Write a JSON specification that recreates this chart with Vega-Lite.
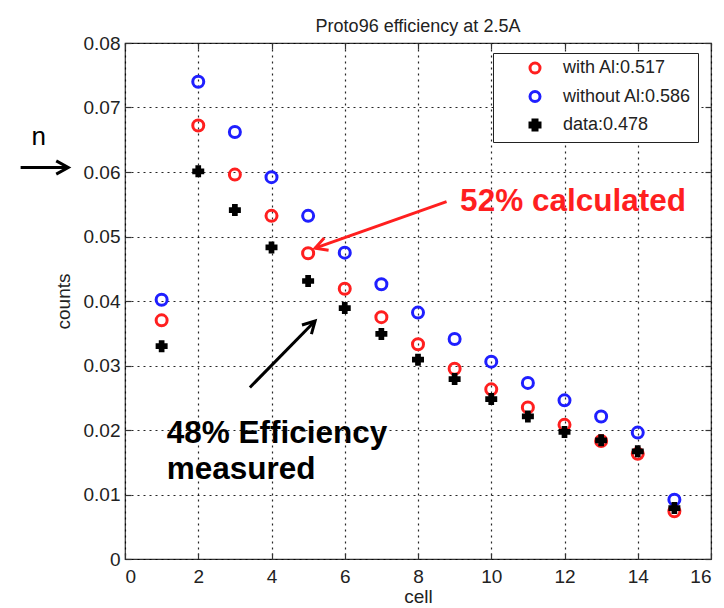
{
  "$schema": "https://vega.github.io/schema/vega-lite/v6.json",
  "width": 586,
  "height": 516,
  "autosize": {"type": "none"},
  "padding": {"left": 125, "top": 43, "right": 13, "bottom": 49},
  "background": "white",
  "title": {
    "text": "Proto96 efficiency at 2.5A",
    "font": "Liberation Sans",
    "fontSize": 18,
    "fontWeight": "normal",
    "color": "#222",
    "baseline": "alphabetic",
    "offset": 6,
    "dy": 22
  },
  "config": {
    "view": {"stroke": "#333", "strokeWidth": 1.2},
    "axis": {
      "domain": false,
      "labelFont": "Liberation Sans",
      "labelFontSize": 19,
      "labelColor": "#222",
      "titleFont": "Liberation Sans",
      "titleFontSize": 19,
      "titleFontWeight": "normal",
      "titleColor": "#222",
      "tickColor": "#333",
      "tickSize": -6,
      "tickWidth": 1.2,
      "gridColor": "#000",
      "gridDash": [2, 4],
      "gridWidth": 1.2,
      "gridOpacity": 0.85
    }
  },
  "resolve": {"axis": {"x": "independent", "y": "independent"}},
  "datasets": {
    "cells": [
      {"cell": 1, "series": "with Al:0.517", "counts": 0.0370},
      {"cell": 2, "series": "with Al:0.517", "counts": 0.0672},
      {"cell": 3, "series": "with Al:0.517", "counts": 0.0596},
      {"cell": 4, "series": "with Al:0.517", "counts": 0.0532},
      {"cell": 5, "series": "with Al:0.517", "counts": 0.0474},
      {"cell": 6, "series": "with Al:0.517", "counts": 0.0419},
      {"cell": 7, "series": "with Al:0.517", "counts": 0.0375},
      {"cell": 8, "series": "with Al:0.517", "counts": 0.0333},
      {"cell": 9, "series": "with Al:0.517", "counts": 0.0295},
      {"cell": 10, "series": "with Al:0.517", "counts": 0.0263},
      {"cell": 11, "series": "with Al:0.517", "counts": 0.0235},
      {"cell": 12, "series": "with Al:0.517", "counts": 0.0208},
      {"cell": 13, "series": "with Al:0.517", "counts": 0.0183},
      {"cell": 14, "series": "with Al:0.517", "counts": 0.0163},
      {"cell": 15, "series": "with Al:0.517", "counts": 0.0074},
      {"cell": 1, "series": "without Al:0.586", "counts": 0.0402},
      {"cell": 2, "series": "without Al:0.586", "counts": 0.0740},
      {"cell": 3, "series": "without Al:0.586", "counts": 0.0662},
      {"cell": 4, "series": "without Al:0.586", "counts": 0.0592},
      {"cell": 5, "series": "without Al:0.586", "counts": 0.0532},
      {"cell": 6, "series": "without Al:0.586", "counts": 0.0475},
      {"cell": 7, "series": "without Al:0.586", "counts": 0.0426},
      {"cell": 8, "series": "without Al:0.586", "counts": 0.0382},
      {"cell": 9, "series": "without Al:0.586", "counts": 0.0341},
      {"cell": 10, "series": "without Al:0.586", "counts": 0.0306},
      {"cell": 11, "series": "without Al:0.586", "counts": 0.0273},
      {"cell": 12, "series": "without Al:0.586", "counts": 0.0246},
      {"cell": 13, "series": "without Al:0.586", "counts": 0.0221},
      {"cell": 14, "series": "without Al:0.586", "counts": 0.0196},
      {"cell": 15, "series": "without Al:0.586", "counts": 0.0092},
      {"cell": 1, "series": "data:0.478", "counts": 0.0330},
      {"cell": 2, "series": "data:0.478", "counts": 0.0601},
      {"cell": 3, "series": "data:0.478", "counts": 0.0541},
      {"cell": 4, "series": "data:0.478", "counts": 0.0483},
      {"cell": 5, "series": "data:0.478", "counts": 0.0431},
      {"cell": 6, "series": "data:0.478", "counts": 0.0389},
      {"cell": 7, "series": "data:0.478", "counts": 0.0349},
      {"cell": 8, "series": "data:0.478", "counts": 0.0309},
      {"cell": 9, "series": "data:0.478", "counts": 0.0279},
      {"cell": 10, "series": "data:0.478", "counts": 0.0248},
      {"cell": 11, "series": "data:0.478", "counts": 0.0221},
      {"cell": 12, "series": "data:0.478", "counts": 0.0197},
      {"cell": 13, "series": "data:0.478", "counts": 0.0184},
      {"cell": 14, "series": "data:0.478", "counts": 0.0167},
      {"cell": 15, "series": "data:0.478", "counts": 0.0079}
    ],
    "arrows": [
      {"name": "calc", "x": 8.78, "y": 0.0554, "x2": 5.19, "y2": 0.0482},
      {"name": "meas", "x": 3.41, "y": 0.0266, "x2": 5.19, "y2": 0.0369},
      {"name": "n", "x": -2.85, "y": 0.0607, "x2": -1.55, "y2": 0.0607}
    ],
    "notes": [
      {"name": "calc", "label": "52% calculated", "x": 9.15, "y": 0.0539},
      {"name": "meas", "label": "48% Efficiency", "x": 1.14, "y": 0.0180},
      {"name": "meas", "label": "measured", "x": 1.14, "y": 0.01236}
    ],
    "symbol": [
      {"label": "n", "x": -2.55, "y": 0.0642}
    ]
  },
  "layer": [
    {
      "data": {"name": "cells"},
      "mark": {"type": "point", "opacity": 1, "strokeWidth": 3},
      "encoding": {
        "x": {
          "field": "cell", "type": "quantitative",
          "scale": {"domain": [0, 16], "nice": false, "zero": false},
          "axis": {
            "orient": "bottom", "title": "cell", "values": [0, 2, 4, 6, 8, 10, 12, 14, 16],
            "grid": true, "labelPadding": 14, "titlePadding": 1
          }
        },
        "y": {
          "field": "counts", "type": "quantitative",
          "scale": {"domain": [0, 0.08], "nice": false, "zero": false},
          "axis": {
            "orient": "left", "title": "counts", "format": ".2~f",
            "values": [0, 0.01, 0.02, 0.03, 0.04, 0.05, 0.06, 0.07, 0.08],
            "grid": true, "labelPadding": 11, "titlePadding": 10
          }
        },
        "shape": {
          "field": "series", "type": "nominal",
          "scale": {
            "domain": ["with Al:0.517", "without Al:0.586", "data:0.478"],
            "range": ["circle", "circle", "cross"]
          }
        },
        "stroke": {
          "field": "series", "type": "nominal",
          "scale": {
            "domain": ["with Al:0.517", "without Al:0.586", "data:0.478"],
            "range": ["#ff1f1f", "#1f1fff", "#000000"]
          },
          "legend": {
            "orient": "none", "legendX": 368, "legendY": 10, "title": null,
            "strokeColor": "#222", "fillColor": "white", "padding": 6,
            "symbolOffset": 27, "labelOffset": 19, "rowPadding": 6.5,
            "labelFont": "Liberation Sans", "labelFontSize": 18, "labelColor": "#222",
            "symbolSize": 100, "symbolStrokeWidth": 3
          }
        },
        "fill": {
          "field": "series", "type": "nominal",
          "scale": {
            "domain": ["with Al:0.517", "without Al:0.586", "data:0.478"],
            "range": ["transparent", "transparent", "#000000"]
          }
        },
        "size": {"condition": {"test": "datum.series === 'data:0.478'", "value": 110}, "value": 121},
        "strokeWidth": {"condition": {"test": "datum.series === 'data:0.478'", "value": 1.5}, "value": 3}
      }
    },
    {
      "data": {"name": "arrows"},
      "mark": {"type": "rule", "strokeWidth": 3, "strokeCap": "butt"},
      "encoding": {
        "x": {"field": "x", "type": "quantitative", "scale": {"domain": [0, 16]}, "axis": null},
        "y": {"field": "y", "type": "quantitative", "scale": {"domain": [0, 0.08]}, "axis": null},
        "x2": {"field": "x2"},
        "y2": {"field": "y2"},
        "stroke": {"condition": {"test": "datum.name === 'calc'", "value": "#ff1f1f"}, "value": "#000000"}
      }
    },
    {
      "data": {"name": "arrows"},
      "mark": {
        "type": "point", "shape": "M -1 -0.55 L 0 0 L -1 0.55",
        "filled": false, "strokeWidth": 3, "size": 576, "opacity": 1, "strokeJoin": "miter"
      },
      "encoding": {
        "x": {
          "field": "x2", "type": "quantitative", "scale": {"domain": [0, 16]},
          "axis": {
            "orient": "top", "labels": false, "title": null, "grid": false,
            "values": [0, 2, 4, 6, 8, 10, 12, 14, 16]
          }
        },
        "y": {
          "field": "y2", "type": "quantitative", "scale": {"domain": [0, 0.08]},
          "axis": {
            "orient": "right", "labels": false, "title": null, "grid": false,
            "values": [0, 0.01, 0.02, 0.03, 0.04, 0.05, 0.06, 0.07, 0.08]
          }
        },
        "stroke": {"condition": {"test": "datum.name === 'calc'", "value": "#ff1f1f"}, "value": "#000000"},
        "angle": {
          "condition": [
            {"test": "datum.name === 'calc'", "value": 160.5},
            {"test": "datum.name === 'meas'", "value": 314.3}
          ],
          "value": 0
        }
      }
    },
    {
      "data": {"name": "notes"},
      "mark": {
        "type": "text", "align": "left", "baseline": "alphabetic",
        "font": "Liberation Sans", "fontSize": 31.5, "fontWeight": "bold"
      },
      "encoding": {
        "x": {"field": "x", "type": "quantitative", "scale": {"domain": [0, 16]}, "axis": null},
        "y": {"field": "y", "type": "quantitative", "scale": {"domain": [0, 0.08]}, "axis": null},
        "text": {"field": "label"},
        "fill": {"condition": {"test": "datum.name === 'calc'", "value": "#ff1f1f"}, "value": "#000000"}
      }
    },
    {
      "data": {"name": "symbol"},
      "mark": {
        "type": "text", "align": "left", "baseline": "alphabetic",
        "font": "Liberation Sans", "fontSize": 26, "color": "#000"
      },
      "encoding": {
        "x": {"field": "x", "type": "quantitative", "scale": {"domain": [0, 16]}, "axis": null},
        "y": {"field": "y", "type": "quantitative", "scale": {"domain": [0, 0.08]}, "axis": null},
        "text": {"field": "label"}
      }
    }
  ]
}
